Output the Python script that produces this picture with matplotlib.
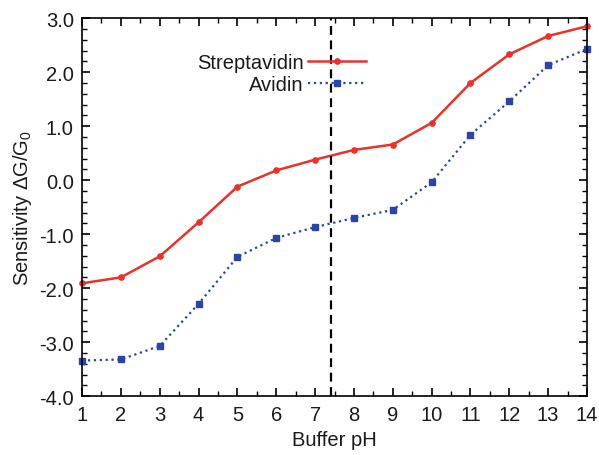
import matplotlib
matplotlib.use("Agg")
import matplotlib.pyplot as plt
from matplotlib.ticker import MultipleLocator, FormatStrFormatter

plt.rcParams['font.family'] = ['Liberation Sans', 'DejaVu Sans']
plt.rcParams['mathtext.fontset'] = 'custom'
plt.rcParams['mathtext.rm'] = 'Liberation Sans'

# data
ph = [1, 2, 3, 4, 5, 6, 7, 8, 9, 10, 11, 12, 13, 14]
streptavidin = [-1.91, -1.80, -1.41, -0.78, -0.12, 0.18, 0.38, 0.56, 0.66, 1.06, 1.80, 2.33, 2.67, 2.85]
avidin = [-3.34, -3.32, -3.07, -2.29, -1.42, -1.07, -0.87, -0.70, -0.55, -0.04, 0.84, 1.46, 2.13, 2.43]
physiological_ph = 7.4

fs = 14.5
text_col = '#1a1a1a'

fig = plt.figure(figsize=(5.99, 4.56), dpi=100)
ax = fig.add_axes([0.137, 0.129, 0.843, 0.829])

ax.plot(ph, streptavidin, '-', color='#e8322a', lw=1.8, marker='o', ms=3.8,
        label='Streptavidin', clip_on=False)
ax.plot(ph, avidin, ':', color='#2a45a6', lw=1.6, marker='s', ms=4.8,
        label='Avidin', clip_on=False)
ax.axvline(physiological_ph, color='black', ls='--', lw=1.6, dashes=(4, 2.5))

ax.set_xlim(1, 14)
ax.set_ylim(-4, 3)
ax.xaxis.set_major_locator(MultipleLocator(1))
ax.xaxis.set_minor_locator(MultipleLocator(0.5))
ax.yaxis.set_major_locator(MultipleLocator(1))
ax.yaxis.set_minor_locator(MultipleLocator(0.2))
ax.yaxis.set_major_formatter(FormatStrFormatter('%.1f'))
ax.tick_params(which='both', direction='in', top=True, right=True,
               labelsize=fs, labelcolor=text_col, pad=6)
ax.tick_params(which='major', length=6, width=1.2)
ax.tick_params(which='minor', length=3.5, width=1.0)
for s in ax.spines.values():
    s.set_linewidth(1.2)

ax.set_xlabel('Buffer pH', fontsize=fs, color=text_col, labelpad=5)
ax.set_ylabel('Sensitivity $\\Delta$G/G$_0$', fontsize=fs, color=text_col, labelpad=4)

leg = ax.legend(loc='upper right', bbox_to_anchor=(0.563, 0.907), frameon=False,
                markerfirst=False, fontsize=fs, handlelength=2.9,
                handletextpad=0.2, labelspacing=0.15, borderaxespad=0, borderpad=0)
for t in leg.get_texts():
    t.set_ha('right')
    t.set_color(text_col)

fig.savefig('out.png', dpi=100)
